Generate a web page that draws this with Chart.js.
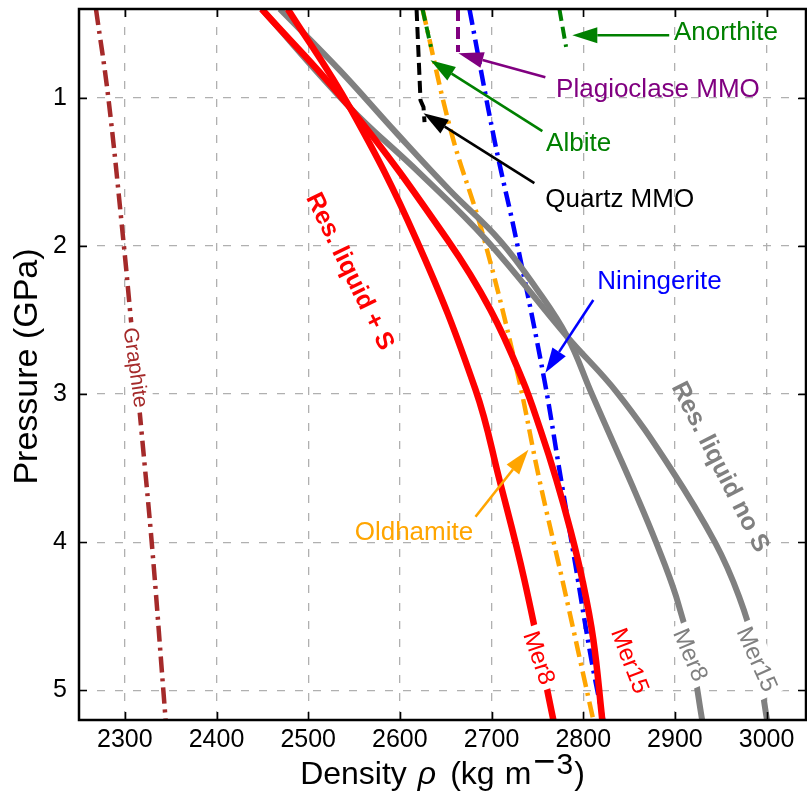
<!DOCTYPE html>
<html>
<head>
<meta charset="utf-8">
<script src="https://cdn.jsdelivr.net/npm/chart.js@4.4.1/dist/chart.umd.min.js"></script>
<style>
  html, body { margin: 0; padding: 0; background: #fff; }
</style>
</head>
<body>
<canvas id="grafico" width="807" height="804"></canvas>
<script>
const fonte = '"Liberation Sans", Arial, Helvetica, sans-serif';

// ticks dos eixos
const densidadeTicks = [2300, 2400, 2500, 2600, 2700, 2800, 2900, 3000];
const pressaoTicks = [1, 2, 3, 4, 5];

// curvas (densidade em kg/m3, pressao em GPa)
const graphiteRho = [2268.5, 2282, 2299, 2305.6, 2318, 2330, 2342, 2344.5];
const graphiteP = [0.4, 1.0, 2.0, 2.43, 3.24, 4.05, 5.0, 5.2];

const redMer8Rho = [2477.7, 2545.2, 2618.2, 2682.5, 2708.6, 2735.8, 2767.4];
const redMer8P = [0.4, 1.063, 1.96, 2.97, 3.578, 4.254, 5.2];

const redMer15Rho = [2449.3, 2545.2, 2652, 2698.8, 2733.7, 2753.3, 2770.7, 2785.9, 2799, 2811, 2820.8];
const redMer15P = [0.4, 1.063, 1.959, 2.431, 2.903, 3.241, 3.578, 3.915, 4.252, 4.657, 5.2];

const grayMer8Rho = [2469, 2534.3, 2596.4, 2654.1, 2708.6, 2750, 2782.7, 2808.8, 2832.8, 2856.8, 2879.6, 2901.4, 2916.7, 2929.7];
const grayMer8P = [0.4, 0.813, 1.238, 1.622, 1.959, 2.297, 2.614, 2.991, 3.328, 3.665, 4.003, 4.367, 4.724, 5.2];

const grayMer15Rho = [2449.3, 2545.2, 2620.4, 2694.4, 2782.7, 2837.1, 2894.9, 2943.9, 2970, 2987.5, 3000.5];
const grayMer15P = [0.4, 1.063, 1.501, 1.959, 2.614, 2.991, 3.497, 4.003, 4.367, 4.724, 5.2];

const quartzRho = [2618.2, 2622.5, 2625.8, 2626.9];
const quartzP = [0.4, 1.016, 1.063, 1.164];

const albiteRho = [2624.7, 2633.9];
const albiteP = [0.4, 0.656];

const plagioRho = [2663.4, 2663.4];
const plagioP = [0.4, 0.69];

const anorthiteRho = [2774, 2781.3];
const anorthiteP = [0.4, 0.656];

const oldhamiteRho = [2624.7, 2656.3, 2690.1, 2728.2, 2752.2, 2777.2, 2811];
const oldhamiteP = [0.4, 1.238, 1.913, 2.857, 3.578, 4.254, 5.2];

const niningeriteRho = [2675.9, 2703.2, 2727.1, 2757.6, 2774, 2791.4, 2808.8, 2821.9];
const niningeriteP = [0.4, 1.286, 1.96, 2.904, 3.51, 4.15, 4.79, 5.2];

// rotulos sobre as linhas
const rotulos = [
    { txt: 'Graphite', rho: 2312, p: 2.82, ang: 82, cor: '#a52a2a', peso: '', tam: 21, fundo: true },
    { txt: 'Res. liquid + S', rho: 2546, p: 2.17, ang: 64, cor: '#ff0000', peso: 'bold ', tam: 25, fundo: false },
    { txt: 'Res. liquid no S', rho: 2950, p: 3.49, ang: 63, cor: '#808080', peso: 'bold ', tam: 25, fundo: false },
    { txt: 'Mer8', rho: 2752, p: 4.78, ang: 71, cor: '#ff0000', peso: '', tam: 24, fundo: true },
    { txt: 'Mer15', rho: 2851, p: 4.80, ang: 69, cor: '#ff0000', peso: '', tam: 24, fundo: false },
    { txt: 'Mer8', rho: 2917, p: 4.76, ang: 67, cor: '#808080', peso: '', tam: 24, fundo: true },
    { txt: 'Mer15', rho: 2989.5, p: 4.79, ang: 66, cor: '#808080', peso: '', tam: 24, fundo: true }
];

// anotacoes com seta
const notas = [
    { txt: 'Anorthite', rho: 2899, p: 0.564, cor: '#008000', de: [2893.8, 0.577], ate: [2788.1, 0.577] },
    { txt: 'Plagioclase MMO', rho: 2770.4, p: 0.943, cor: '#800080', de: [2758.7, 0.861], ate: [2663.9, 0.699] },
    { txt: 'Albite', rho: 2759.5, p: 1.308, cor: '#008000', de: [2755.4, 1.225], ate: [2633.4, 0.746] },
    { txt: 'Quartz MMO', rho: 2758.7, p: 1.685, cor: '#000000', de: [2746.7, 1.576], ate: [2625.8, 1.104] },
    { txt: 'Niningerite', rho: 2815.4, p: 2.243, cor: '#0000ff', de: [2811, 2.364], ate: [2758.7, 2.856] },
    { txt: 'Oldhamite', rho: 2550.7, p: 3.936, cor: '#ffa500', de: [2682.5, 3.828], ate: [2740.2, 3.376] }
];

function serie(rho, p) {
    return rho.map((r, i) => ({ x: r, y: p[i] }));
}

function linha(rho, p, cor, largura, tracejado, suave) {
    return {
        data: serie(rho, p),
        showLine: true,
        borderColor: cor,
        backgroundColor: cor,
        borderWidth: largura,
        borderDash: tracejado,
        pointRadius: 0,
        tension: suave ? 0.4 : 0
    };
}

const tracoPonto = [16, 6, 3, 6];
const traco = [12, 6];

function seta(ctx, x0, y0, x1, y1, cor) {
    const ang = Math.atan2(y1 - y0, x1 - x0);
    const comp = 25, meia = 8;
    const bx = x1 - comp * Math.cos(ang), by = y1 - comp * Math.sin(ang);
    ctx.save();
    ctx.strokeStyle = cor;
    ctx.fillStyle = cor;
    ctx.lineWidth = 2.6;
    ctx.beginPath();
    ctx.moveTo(x0, y0);
    ctx.lineTo(bx, by);
    ctx.stroke();
    ctx.beginPath();
    ctx.moveTo(x1, y1);
    ctx.lineTo(bx + meia * Math.sin(ang), by - meia * Math.cos(ang));
    ctx.lineTo(bx - meia * Math.sin(ang), by + meia * Math.cos(ang));
    ctx.closePath();
    ctx.fill();
    ctx.restore();
}

const anotacoes = {
    id: 'anotacoes',
    afterDatasetsDraw(chart) {
        const { ctx, scales } = chart;
        const xs = scales.x, ys = scales.y;

        rotulos.forEach((r) => {
            const x = xs.getPixelForValue(r.rho);
            const y = ys.getPixelForValue(r.p);
            ctx.save();
            ctx.translate(x, y);
            ctx.rotate(r.ang * Math.PI / 180);
            ctx.font = r.peso + r.tam + 'px ' + fonte;
            const w = ctx.measureText(r.txt).width;
            if (r.fundo) {
                ctx.fillStyle = '#ffffff';
                ctx.fillRect(-w / 2 - 5, -r.tam * 0.62, w + 10, r.tam * 1.24);
            }
            ctx.fillStyle = r.cor;
            ctx.textAlign = 'center';
            ctx.textBaseline = 'middle';
            ctx.fillText(r.txt, 0, 1);
            ctx.restore();
        });

        notas.forEach((n) => {
            seta(ctx,
                xs.getPixelForValue(n.de[0]), ys.getPixelForValue(n.de[1]),
                xs.getPixelForValue(n.ate[0]), ys.getPixelForValue(n.ate[1]), n.cor);
            ctx.save();
            ctx.font = '26px ' + fonte;
            ctx.fillStyle = n.cor;
            ctx.textAlign = 'left';
            ctx.textBaseline = 'middle';
            ctx.fillText(n.txt, xs.getPixelForValue(n.rho), ys.getPixelForValue(n.p));
            ctx.restore();
        });
    },
    afterDraw(chart) {
        const { ctx, chartArea: a, scales } = chart;
        ctx.save();
        ctx.strokeStyle = '#000';
        ctx.lineWidth = 1.6;
        ctx.beginPath();
        densidadeTicks.forEach((v) => {
            const px = Math.round(scales.x.getPixelForValue(v)) + 0.5;
            ctx.moveTo(px, a.bottom); ctx.lineTo(px, a.bottom - 8);
            ctx.moveTo(px, a.top); ctx.lineTo(px, a.top + 8);
        });
        pressaoTicks.forEach((v) => {
            const py = Math.round(scales.y.getPixelForValue(v)) + 0.5;
            ctx.moveTo(a.left, py); ctx.lineTo(a.left + 8, py);
            ctx.moveTo(a.right, py); ctx.lineTo(a.right - 8, py);
        });
        ctx.stroke();
        ctx.lineWidth = 2.5;
        ctx.strokeRect(a.left, a.top, a.right - a.left, a.bottom - a.top);

        // titulo do eixo y
        ctx.fillStyle = '#000';
        ctx.translate(37, (a.top + a.bottom) / 2 + 2);
        ctx.rotate(-Math.PI / 2);
        ctx.font = '34px ' + fonte;
        ctx.textAlign = 'center';
        ctx.textBaseline = 'alphabetic';
        ctx.fillText('Pressure (GPa)', 0, 0);
        ctx.restore();

        // titulo do eixo x com rho e expoente
        const partes = [
            { t: 'Density', f: '32px ' + fonte, gap: 0, sobe: 0 },
            { t: 'ρ', f: 'italic 32px ' + fonte, gap: 11, sobe: 0 },
            { t: '(kg', f: '32px ' + fonte, gap: 14, sobe: 0 },
            { t: 'm', f: '32px ' + fonte, gap: 10, sobe: 0 },
            { t: '−', f: '38px ' + fonte, gap: 2, sobe: 10 },
            { t: '3', f: '30px ' + fonte, gap: 1, sobe: 10 },
            { t: ')', f: '32px ' + fonte, gap: 1, sobe: 0 }
        ];
        ctx.save();
        let total = 0;
        partes.forEach((p) => {
            ctx.font = p.f;
            p.w = ctx.measureText(p.t).width;
            total += p.gap + p.w;
        });
        let x = (a.left + a.right) / 2 - total / 2;
        ctx.fillStyle = '#000';
        ctx.textBaseline = 'alphabetic';
        ctx.textAlign = 'left';
        partes.forEach((p) => {
            x += p.gap;
            ctx.font = p.f;
            ctx.fillText(p.t, x, 784 - p.sobe);
            x += p.w;
        });
        ctx.restore();
    }
};

function semPadding(s) {
    s.paddingTop = 0;
    s.paddingBottom = 0;
    s.paddingLeft = 0;
    s.paddingRight = 0;
}

let grafico = new Chart(document.getElementById('grafico'), {
    type: 'scatter',
    data: {
        datasets: [
            linha(redMer8Rho, redMer8P, '#ff0000', 6.5, [], true),
            linha(redMer15Rho, redMer15P, '#ff0000', 6.5, [], true),
            linha(grayMer8Rho, grayMer8P, '#808080', 6, [], true),
            linha(grayMer15Rho, grayMer15P, '#808080', 6, [], true),
            linha(quartzRho, quartzP, '#000000', 4, traco, false),
            linha(albiteRho, albiteP, '#008000', 4, traco, false),
            linha(plagioRho, plagioP, '#800080', 4, traco, false),
            linha(anorthiteRho, anorthiteP, '#008000', 4, traco, false),
            linha(niningeriteRho, niningeriteP, '#0000ff', 4.5, tracoPonto, true),
            linha(oldhamiteRho, oldhamiteP, '#ffa500', 4.5, tracoPonto, true),
            linha(graphiteRho, graphiteP, '#a52a2a', 4.5, tracoPonto, true)
        ]
    },
    options: {
        responsive: false,
        animation: false,
        devicePixelRatio: 1,
        layout: { padding: { top: 9, right: 1, left: 0, bottom: 0 } },
        plugins: {
            legend: { display: false },
            tooltip: { enabled: false }
        },
        scales: {
            x: {
                type: 'linear',
                min: 2250,
                max: 3043,
                afterBuildTicks: (s) => { s.ticks = densidadeTicks.map((v) => ({ value: v })); },
                afterFit: (s) => { s.height = 84; semPadding(s); },
                ticks: { color: '#000', padding: 5, maxRotation: 0, autoSkip: false, callback: (v) => String(v), font: { family: fonte, size: 25 } },
                grid: { color: '#b0b0b0', lineWidth: 1.3, drawTicks: false },
                border: { display: false, dash: [8, 10] }
            },
            y: {
                type: 'linear',
                reverse: true,
                min: 0.4,
                max: 5.2,
                afterBuildTicks: (s) => { s.ticks = pressaoTicks.map((v) => ({ value: v })); },
                afterFit: (s) => { s.width = 79; semPadding(s); },
                ticks: { color: '#000', padding: 12, autoSkip: false, callback: (v) => String(v), font: { family: fonte, size: 25 } },
                grid: { color: '#b0b0b0', lineWidth: 1.3, drawTicks: false },
                border: { display: false, dash: [8, 10] }
            }
        }
    },
    plugins: [anotacoes]
});
</script>
</body>
</html>
